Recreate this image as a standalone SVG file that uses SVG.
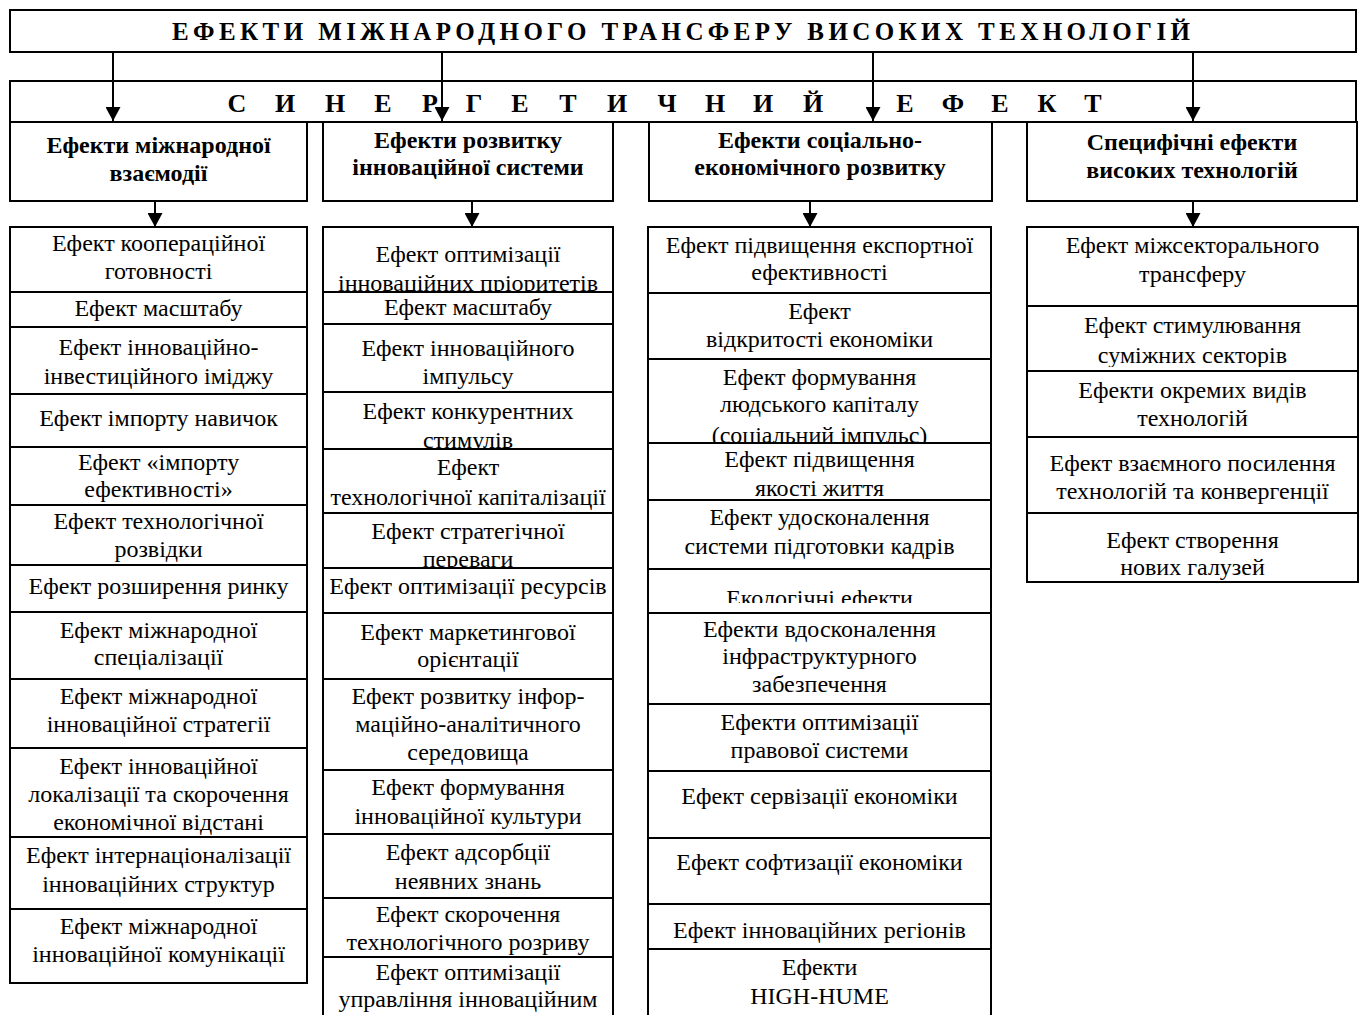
<svg xmlns="http://www.w3.org/2000/svg" width="1362" height="1015" viewBox="0 0 1362 1015">
<style>
.b{fill:#fff;stroke:#000;stroke-width:2}
.t{font-family:"Liberation Serif","Times New Roman",serif;font-size:24px;text-anchor:middle;fill:#000}
.h{font-family:"Liberation Serif","Times New Roman",serif;font-size:24px;font-weight:bold;text-anchor:middle;fill:#000}
.ti{font-family:"Liberation Serif","Times New Roman",serif;font-size:25px;font-weight:bold;fill:#000}
.sy{font-family:"Liberation Serif","Times New Roman",serif;font-size:26px;font-weight:bold;text-anchor:middle;fill:#000}
.c{stroke:#000;stroke-width:2;fill:none;marker-end:url(#ah)}
</style>
<defs>
<marker id="ah" markerUnits="userSpaceOnUse" markerWidth="15" markerHeight="15" refX="14" refY="7.5" orient="auto"><path d="M0,0 L14,7.5 L0,15 Z" fill="#000"/></marker>
<clipPath id="clipEco"><rect x="648" y="569" width="343" height="34"/></clipPath>
<clipPath id="clipSum"><rect x="1027" y="306" width="331" height="61"/></clipPath>
</defs>
<rect width="1362" height="1015" fill="#fff"/>

<g id="title">
<rect class="b" x="10" y="10" width="1346" height="42"/>
<text class="ti" x="172" y="40" textLength="1018" lengthAdjust="spacing">ЕФЕКТИ МІЖНАРОДНОГО ТРАНСФЕРУ ВИСОКИХ ТЕХНОЛОГІЙ</text>
</g>

<g id="synergy">
<rect class="b" x="10" y="81" width="1346" height="41"/>
<text class="sy" x="237 285 335 383 430 474 520 568 617 667 715 763 813 905 953 1000 1047 1093" y="112">СИНЕРГЕТИЧНИЙЕФЕКТ</text>
</g>

<g id="h1"><rect class="b" x="10" y="122" width="297" height="79"/><text class="h" x="158.5" y="153">Ефекти міжнародної</text><text class="h" x="158.5" y="181">взаємодії</text></g>
<g id="h2"><rect class="b" x="323" y="122" width="290" height="79"/><text class="h" x="468" y="148">Ефекти розвитку</text><text class="h" x="468" y="175">інноваційної системи</text></g>
<g id="h3"><rect class="b" x="649" y="122" width="343" height="79"/><text class="h" x="820" y="148">Ефекти соціально-</text><text class="h" x="820" y="175">економічного розвитку</text></g>
<g id="h4"><rect class="b" x="1027" y="122" width="330" height="79"/><text class="h" x="1192" y="150">Специфічні ефекти</text><text class="h" x="1192" y="178">високих технологій</text></g>

<g id="col1">
<g id="c1r1"><rect class="b" x="10" y="227" width="297" height="65"/><text class="t" x="158.5" y="251">Ефект кооперацiйної</text><text class="t" x="158.5" y="279">готовності</text></g>
<g id="c1r2"><rect class="b" x="10" y="292" width="297" height="35"/><text class="t" x="158.5" y="316">Ефект масштабу</text></g>
<g id="c1r3"><rect class="b" x="10" y="327" width="297" height="67"/><text class="t" x="158.5" y="355">Ефект інноваційно-</text><text class="t" x="158.5" y="384">інвестиційного іміджу</text></g>
<g id="c1r4"><rect class="b" x="10" y="394" width="297" height="53"/><text class="t" x="158.5" y="426">Ефект імпорту навичок</text></g>
<g id="c1r5"><rect class="b" x="10" y="447" width="297" height="58"/><text class="t" x="158.5" y="470">Ефект «імпорту</text><text class="t" x="158.5" y="497">ефективності»</text></g>
<g id="c1r6"><rect class="b" x="10" y="505" width="297" height="60"/><text class="t" x="158.5" y="529">Ефект технологічної</text><text class="t" x="158.5" y="557">розвідки</text></g>
<g id="c1r7"><rect class="b" x="10" y="565" width="297" height="47"/><text class="t" x="158.5" y="594">Ефект розширення ринку</text></g>
<g id="c1r8"><rect class="b" x="10" y="612" width="297" height="67"/><text class="t" x="158.5" y="638">Ефект міжнародної</text><text class="t" x="158.5" y="665">спеціалізації</text></g>
<g id="c1r9"><rect class="b" x="10" y="679" width="297" height="69"/><text class="t" x="158.5" y="704">Ефект міжнародної</text><text class="t" x="158.5" y="732">інноваційної стратегії</text></g>
<g id="c1r10"><rect class="b" x="10" y="748" width="297" height="89"/><text class="t" x="158.5" y="774">Ефект інноваційної</text><text class="t" x="158.5" y="802">локалізації та скорочення</text><text class="t" x="158.5" y="830">економічної відстані</text></g>
<g id="c1r11"><rect class="b" x="10" y="837" width="297" height="72"/><text class="t" x="158.5" y="863">Ефект інтернаціоналізації</text><text class="t" x="158.5" y="892">інноваційних структур</text></g>
<g id="c1r12"><rect class="b" x="10" y="909" width="297" height="74"/><text class="t" x="158.5" y="934">Ефект міжнародної</text><text class="t" x="158.5" y="962">інноваційної комунікації</text></g>
</g>

<g id="col2">
<g id="c2r1"><rect class="b" x="323" y="227" width="290" height="65"/><text class="t" x="468" y="262">Ефект оптимізації</text><text class="t" x="468" y="291">інноваційних пріоритетів</text></g>
<g id="c2r2"><rect class="b" x="323" y="292" width="290" height="32"/><text class="t" x="468" y="315">Ефект масштабу</text></g>
<g id="c2r3"><rect class="b" x="323" y="324" width="290" height="68"/><text class="t" x="468" y="356">Ефект інноваційного</text><text class="t" x="468" y="384">імпульсу</text></g>
<g id="c2r4"><rect class="b" x="323" y="392" width="290" height="57"/><text class="t" x="468" y="419">Ефект конкурентних</text><text class="t" x="468" y="448">стимулів</text></g>
<g id="c2r5"><rect class="b" x="323" y="449" width="290" height="64"/><text class="t" x="468" y="475">Ефект</text><text class="t" x="468" y="505">технологічної капіталізації</text></g>
<g id="c2r6"><rect class="b" x="323" y="513" width="290" height="55"/><text class="t" x="468" y="539">Ефект стратегічної</text><text class="t" x="468" y="567">переваги</text></g>
<g id="c2r7"><rect class="b" x="323" y="568" width="290" height="45"/><text class="t" x="468" y="594">Ефект оптимізації ресурсів</text></g>
<g id="c2r8"><rect class="b" x="323" y="613" width="290" height="66"/><text class="t" x="468" y="640">Ефект маркетингової</text><text class="t" x="468" y="667">орієнтації</text></g>
<g id="c2r9"><rect class="b" x="323" y="679" width="290" height="91"/><text class="t" x="468" y="704">Ефект розвитку інфор-</text><text class="t" x="468" y="732">маційно-аналітичного</text><text class="t" x="468" y="760">середовища</text></g>
<g id="c2r10"><rect class="b" x="323" y="770" width="290" height="64"/><text class="t" x="468" y="795">Ефект формування</text><text class="t" x="468" y="824">інноваційної культури</text></g>
<g id="c2r11"><rect class="b" x="323" y="834" width="290" height="64"/><text class="t" x="468" y="860">Ефект адсорбції</text><text class="t" x="468" y="889">неявних знань</text></g>
<g id="c2r12"><rect class="b" x="323" y="898" width="290" height="59"/><text class="t" x="468" y="922">Ефект скорочення</text><text class="t" x="468" y="950">технологічного розриву</text></g>
<g id="c2r13"><rect class="b" x="323" y="957" width="290" height="70"/><text class="t" x="468" y="980">Ефект оптимізації</text><text class="t" x="468" y="1007">управління інноваційним</text></g>
</g>

<g id="col3">
<g id="c3r1"><rect class="b" x="648" y="227" width="343" height="66"/><text class="t" x="819.5" y="253">Ефект підвищення експортної</text><text class="t" x="819.5" y="280">ефективності</text></g>
<g id="c3r2"><rect class="b" x="648" y="293" width="343" height="66"/><text class="t" x="819.5" y="319">Ефект</text><text class="t" x="819.5" y="347">відкритості економіки</text></g>
<g id="c3r3"><rect class="b" x="648" y="359" width="343" height="84"/><text class="t" x="819.5" y="385">Ефект формування</text><text class="t" x="819.5" y="412">людського капіталу</text><text class="t" x="819.5" y="443">(соціальний імпульс)</text></g>
<g id="c3r4"><rect class="b" x="648" y="443" width="343" height="57"/><text class="t" x="819.5" y="467">Ефект підвищення</text><text class="t" x="819.5" y="496">якості життя</text></g>
<g id="c3r5"><rect class="b" x="648" y="500" width="343" height="69"/><text class="t" x="819.5" y="525">Ефект удосконалення</text><text class="t" x="819.5" y="554">системи підготовки кадрів</text></g>
<g id="c3r6"><rect class="b" x="648" y="569" width="343" height="44"/><text class="t" x="819.5" y="606" clip-path="url(#clipEco)">Екологічні ефекти</text></g>
<g id="c3r7"><rect class="b" x="648" y="613" width="343" height="91"/><text class="t" x="819.5" y="637">Ефекти вдосконалення</text><text class="t" x="819.5" y="664">інфраструктурного</text><text class="t" x="819.5" y="692">забезпечення</text></g>
<g id="c3r8"><rect class="b" x="648" y="704" width="343" height="67"/><text class="t" x="819.5" y="730">Ефекти оптимізації</text><text class="t" x="819.5" y="758">правової системи</text></g>
<g id="c3r9"><rect class="b" x="648" y="771" width="343" height="67"/><text class="t" x="819.5" y="804">Ефект сервізації економіки</text></g>
<g id="c3r10"><rect class="b" x="648" y="838" width="343" height="66"/><text class="t" x="819.5" y="870">Ефект софтизації економіки</text></g>
<g id="c3r11"><rect class="b" x="648" y="904" width="343" height="45"/><text class="t" x="819.5" y="938">Ефект інноваційних регіонів</text></g>
<g id="c3r12"><rect class="b" x="648" y="949" width="343" height="78"/><text class="t" x="819.5" y="975">Ефекти</text><text class="t" x="819.5" y="1004">HIGH-HUME</text></g>
</g>

<g id="col4">
<g id="c4r1"><rect class="b" x="1027" y="227" width="331" height="79"/><text class="t" x="1192.5" y="253">Ефект міжсекторального</text><text class="t" x="1192.5" y="282">трансферу</text></g>
<g id="c4r2"><rect class="b" x="1027" y="306" width="331" height="65"/><text class="t" x="1192.5" y="333">Ефект стимулювання</text><text class="t" x="1192.5" y="363" clip-path="url(#clipSum)">суміжних секторів</text></g>
<g id="c4r3"><rect class="b" x="1027" y="371" width="331" height="66"/><text class="t" x="1192.5" y="398">Ефекти окремих видів</text><text class="t" x="1192.5" y="426">технологій</text></g>
<g id="c4r4"><rect class="b" x="1027" y="437" width="331" height="76"/><text class="t" x="1192.5" y="471">Ефект взаємного посилення</text><text class="t" x="1192.5" y="499">технологій та конвергенції</text></g>
<g id="c4r5"><rect class="b" x="1027" y="513" width="331" height="69"/><text class="t" x="1192.5" y="548">Ефект створення</text><text class="t" x="1192.5" y="575">нових галузей</text></g>
</g>

<g id="connectors">
<line class="c" x1="113" y1="52" x2="113" y2="121"/>
<line class="c" x1="442" y1="52" x2="442" y2="121"/>
<line class="c" x1="873" y1="52" x2="873" y2="121"/>
<line class="c" x1="1193" y1="52" x2="1193" y2="121"/>
<line class="c" x1="155" y1="201" x2="155" y2="227"/>
<line class="c" x1="472" y1="201" x2="472" y2="227"/>
<line class="c" x1="810" y1="201" x2="810" y2="227"/>
<line class="c" x1="1193" y1="201" x2="1193" y2="227"/>
</g>
</svg>
